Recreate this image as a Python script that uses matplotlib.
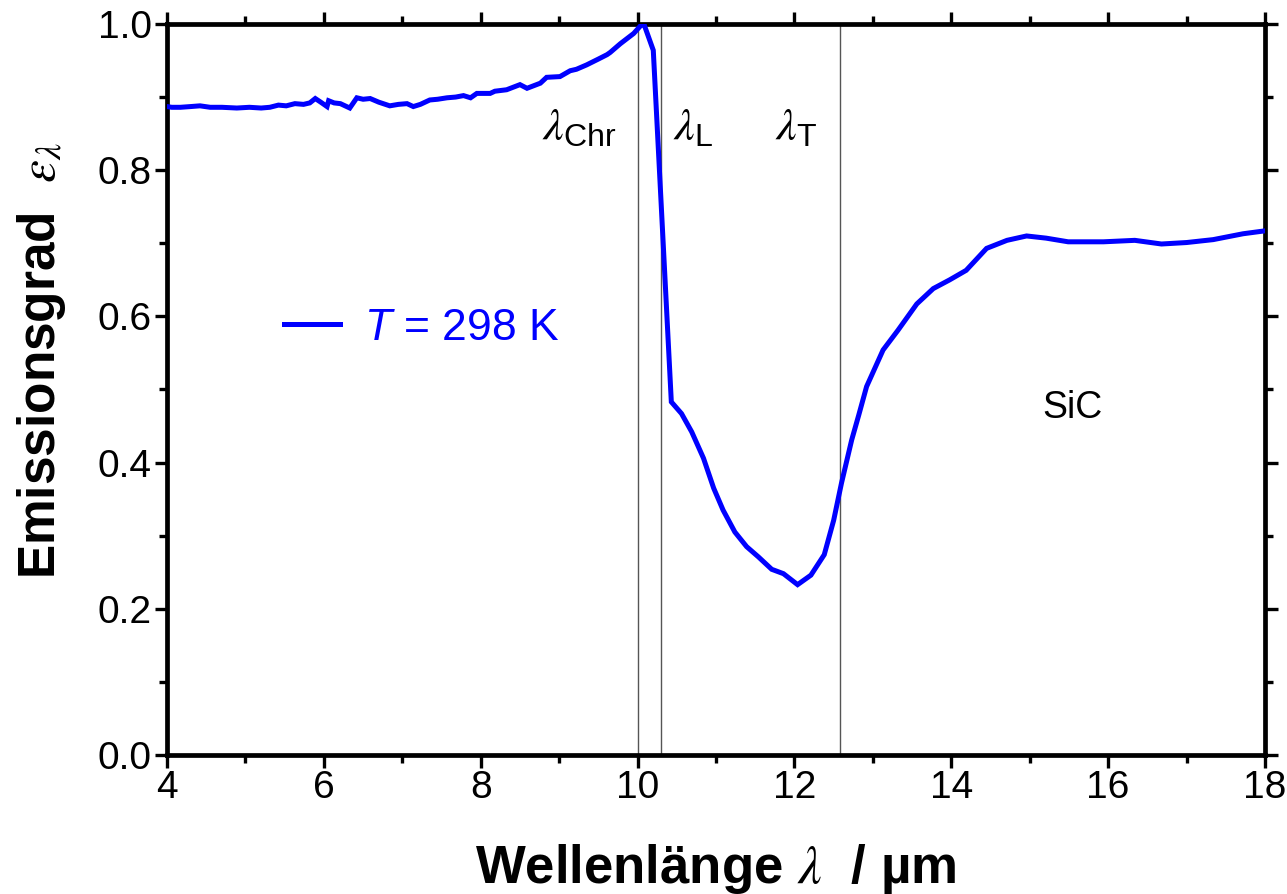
import matplotlib
matplotlib.use("Agg")
import matplotlib.pyplot as plt
from matplotlib.ticker import MultipleLocator, FormatStrFormatter

plt.rcParams["font.family"] = ["Liberation Sans", "DejaVu Sans"]
plt.rcParams["mathtext.fontset"] = "custom"
plt.rcParams["mathtext.rm"] = "Liberation Sans"
plt.rcParams["mathtext.it"] = "STIXGeneral:italic"
plt.rcParams["mathtext.sf"] = "Liberation Sans:italic"

# SiC spectral emissivity at room temperature
wavelength_um = [
    4.00, 4.06, 4.17, 4.30, 4.42, 4.55, 4.70, 4.89, 5.05, 5.20, 5.31, 5.42,
    5.52, 5.63, 5.74, 5.82, 5.89, 5.96, 6.04, 6.06, 6.13, 6.21, 6.33, 6.42,
    6.50, 6.59, 6.70, 6.84, 6.95, 7.06, 7.14, 7.23, 7.35, 7.45, 7.57, 7.68,
    7.78, 7.87, 7.95, 8.05, 8.12, 8.18, 8.33, 8.50, 8.59, 8.76, 8.84, 9.01,
    9.14, 9.22, 9.35, 9.50, 9.61, 9.65, 9.78, 9.95, 10.05, 10.08, 10.20,
    10.43, 10.56, 10.69, 10.84, 10.97, 11.09, 11.24, 11.39, 11.54, 11.71,
    11.86, 12.04, 12.21, 12.38, 12.50, 12.60, 12.73, 12.82, 12.92, 13.13,
    13.32, 13.56, 13.77, 13.98, 14.19, 14.45, 14.71, 14.96, 15.21, 15.49,
    15.94, 16.34, 16.68, 17.00, 17.34, 17.72, 18.00,
]
emissivity = [
    0.887, 0.886, 0.886, 0.887, 0.888, 0.886, 0.886, 0.885, 0.886, 0.885, 0.886, 0.889,
    0.888, 0.891, 0.890, 0.892, 0.898, 0.893, 0.887, 0.895, 0.892, 0.891, 0.885, 0.899,
    0.897, 0.898, 0.893, 0.888, 0.890, 0.891, 0.887, 0.890, 0.896, 0.897, 0.899, 0.900,
    0.902, 0.899, 0.905, 0.905, 0.905, 0.908, 0.910, 0.917, 0.912, 0.919, 0.927, 0.928,
    0.936, 0.938, 0.944, 0.952, 0.958, 0.961, 0.973, 0.987, 0.999, 1.000, 0.964,
    0.483, 0.467, 0.442, 0.406, 0.365, 0.335, 0.305, 0.285, 0.271, 0.254,
    0.248, 0.233, 0.246, 0.274, 0.321, 0.372, 0.431, 0.465, 0.504, 0.554,
    0.581, 0.617, 0.638, 0.650, 0.663, 0.693, 0.704, 0.710, 0.707, 0.702,
    0.702, 0.704, 0.699, 0.701, 0.705, 0.713, 0.717,
]

# characteristic wavelengths (Christiansen, LO, TO)
marker_names = [r"$\lambda_{\mathrm{Chr}}$", r"$\lambda_{\mathrm{L}}$", r"$\lambda_{\mathrm{T}}$"]
marker_pos = [10.0, 10.30, 12.58]
marker_label_x = [8.78, 10.45, 11.75]

fig = plt.figure(figsize=(12.87, 8.94), dpi=100)
ax = fig.add_axes([0.1298, 0.1555, 0.8531, 0.8177])

for x in marker_pos:
    ax.axvline(x, color="#555555", lw=1.0, zorder=1)

ax.plot(wavelength_um, emissivity, color="#0000ff", lw=3.6,
        solid_joinstyle="miter", label=r"$\mathsf{T}$ = 298 K", zorder=3)

for name, xt in zip(marker_names, marker_label_x):
    ax.text(xt, 0.841, name, fontsize=33, ha="left", va="baseline")

ax.text(15.54, 0.475, "SiC", fontsize=27, ha="center", va="center")

leg = ax.legend(loc="center left", bbox_to_anchor=(0.1066, 0.584), frameon=False,
                fontsize=32, handlelength=1.25, handletextpad=0.55,
                borderpad=0, borderaxespad=0)
for t in leg.get_texts():
    t.set_color("#0000ff")

ax.set_xlim(4, 18)
ax.set_ylim(0, 1)
ax.xaxis.set_major_locator(MultipleLocator(2))
ax.xaxis.set_minor_locator(MultipleLocator(1))
ax.yaxis.set_major_locator(MultipleLocator(0.2))
ax.yaxis.set_minor_locator(MultipleLocator(0.1))
ax.yaxis.set_major_formatter(FormatStrFormatter("%.1f"))

for s in ax.spines.values():
    s.set_linewidth(3.4)
ax.tick_params(which="both", direction="out", top=True, right=True,
               labeltop=False, labelright=False)
ax.tick_params(which="major", length=9, width=2.4, labelsize=28, pad=2)
ax.tick_params(which="minor", length=6, width=2.4)

ax.set_xlabel(r"Wellenlänge $\lambda$  / µm", fontsize=38, fontweight="bold")
ax.set_ylabel(r"Emissionsgrad  $\varepsilon_\lambda$", fontsize=37, fontweight="bold")
ax.xaxis.set_label_coords(0.5, -0.119)
ax.yaxis.set_label_coords(-0.090, 0.54)

fig.savefig("out.png", dpi=100)
